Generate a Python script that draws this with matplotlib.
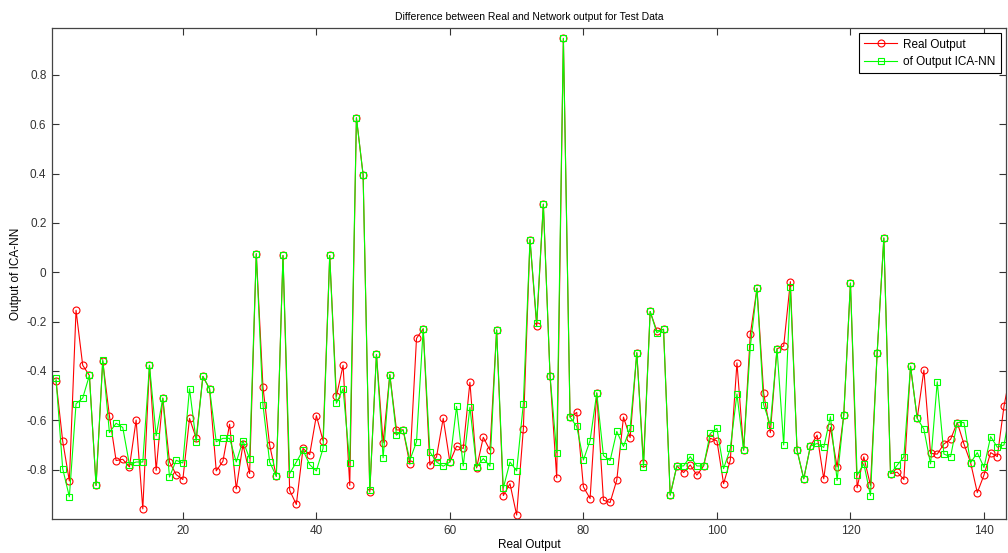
import matplotlib
matplotlib.use("Agg")
import matplotlib.pyplot as plt
import numpy as np

real_output = [
    -0.44, -0.684, -0.846, -0.154, -0.377, -0.418, -0.864, -0.36, -0.582, -0.763,
    -0.758, -0.789, -0.599, -0.959, -0.377, -0.803, -0.51, -0.769, -0.82, -0.84,
    -0.592, -0.673, -0.422, -0.472, -0.805, -0.766, -0.616, -0.878, -0.698, -0.816,
    0.075, -0.465, -0.70, -0.827, 0.068, -0.884, -0.941, -0.714, -0.739, -0.581,
    -0.683, 0.068, -0.503, -0.377, -0.864, 0.626, 0.395, -0.891, -0.333, -0.691,
    -0.415, -0.639, -0.639, -0.778, -0.268, -0.229, -0.782, -0.748, -0.592, -0.769,
    -0.705, -0.714, -0.446, -0.793, -0.669, -0.721, -0.234, -0.905, -0.857, -0.984,
    -0.637, 0.132, -0.218, 0.276, -0.419, -0.833, 0.948, -0.587, -0.568, -0.87,
    -0.917, -0.489, -0.924, -0.933, -0.842, -0.587, -0.67, -0.326, -0.772, -0.159,
    -0.238, -0.231, -0.903, -0.785, -0.812, -0.781, -0.822, -0.785, -0.673, -0.683,
    -0.857, -0.762, -0.367, -0.721, -0.252, -0.065, -0.49, -0.65, -0.31, -0.299,
    -0.038, -0.721, -0.837, -0.705, -0.66, -0.837, -0.629, -0.789, -0.578, -0.044,
    -0.873, -0.748, -0.864, -0.327, 0.139, -0.816, -0.81, -0.84, -0.381, -0.592,
    -0.397, -0.734, -0.737, -0.696, -0.677, -0.609, -0.696, -0.772, -0.893, -0.822,
    -0.731, -0.747, -0.543, -0.40,
]

network_output = [
    -0.43, -0.796, -0.91, -0.533, -0.51, -0.418, -0.864, -0.354, -0.65, -0.612,
    -0.629, -0.78, -0.769, -0.769, -0.377, -0.663, -0.51, -0.83, -0.762, -0.773,
    -0.472, -0.687, -0.422, -0.472, -0.687, -0.673, -0.673, -0.769, -0.683, -0.755,
    0.075, -0.537, -0.769, -0.827, 0.068, -0.816, -0.769, -0.721, -0.78, -0.805,
    -0.714, 0.068, -0.531, -0.472, -0.773, 0.626, 0.395, -0.884, -0.333, -0.752,
    -0.415, -0.66, -0.639, -0.762, -0.687, -0.229, -0.728, -0.769, -0.786, -0.769,
    -0.544, -0.785, -0.547, -0.789, -0.755, -0.786, -0.234, -0.875, -0.769, -0.805,
    -0.533, 0.132, -0.204, 0.276, -0.419, -0.732, 0.948, -0.587, -0.625, -0.761,
    -0.682, -0.489, -0.743, -0.763, -0.645, -0.706, -0.632, -0.326, -0.791, -0.159,
    -0.245, -0.231, -0.903, -0.785, -0.785, -0.747, -0.785, -0.785, -0.653, -0.633,
    -0.796, -0.714, -0.493, -0.721, -0.302, -0.065, -0.537, -0.619, -0.31, -0.70,
    -0.061, -0.721, -0.837, -0.705, -0.694, -0.71, -0.585, -0.844, -0.578, -0.044,
    -0.823, -0.776, -0.905, -0.327, 0.139, -0.816, -0.782, -0.748, -0.381, -0.592,
    -0.636, -0.777, -0.444, -0.737, -0.747, -0.609, -0.609, -0.772, -0.731, -0.791,
    -0.666, -0.709, -0.70, -0.55,
]

x_ticks = [20, 40, 60, 80, 100, 120, 140]
y_ticks = [-0.8, -0.6, -0.4, -0.2, 0, 0.2, 0.4, 0.6, 0.8]
y_tick_labels = ["-0.8", "-0.6", "-0.4", "-0.2", "0", "0.2", "0.4", "0.6", "0.8"]

plt.rcParams['font.family'] = ['Liberation Sans', 'DejaVu Sans']

fig = plt.figure(figsize=(10.08, 5.53), dpi=100)
ax = fig.add_axes([52/1008, 1 - 519/553, (1006 - 52)/1008, (519 - 28)/553])

x = np.arange(1, len(real_output) + 1)
ax.plot(x, real_output, color='#ff0000', linewidth=0.8, marker='o', markersize=5,
        markerfacecolor='none', markeredgecolor='#ff0000', markeredgewidth=0.8,
        label='Real Output')
ax.plot(x, network_output, color='#00ff00', linewidth=0.8, marker='s', markersize=5,
        markerfacecolor='none', markeredgecolor='#00ff00', markeredgewidth=0.8,
        label='of Output ICA-NN')

ax.set_xlim(0.4, 143.3)
ax.set_ylim(-1.0, 0.99)
ax.set_xticks(x_ticks)
ax.set_yticks(y_ticks)
ax.set_yticklabels(y_tick_labels)
ax.tick_params(direction='in', length=5, width=0.8, top=True, right=True,
               labelsize=8.5, colors='#333333', pad=4)
for s in ax.spines.values():
    s.set_color('#444444')
    s.set_linewidth(0.9)

ax.set_title('Difference between Real and Network output for Test Data',
             fontsize=7.5, pad=6)
ax.set_xlabel('Real Output', fontsize=8.5, labelpad=2)
ax.set_ylabel('Output of ICA-NN', fontsize=8.5, labelpad=3)

leg = ax.legend(loc='upper right', fontsize=8.5, frameon=True, fancybox=False,
                edgecolor='black', framealpha=1, borderaxespad=0.45,
                handlelength=2.8, handletextpad=0.5, borderpad=0.45,
                labelspacing=0.45)
leg.get_frame().set_linewidth(0.8)

fig.savefig('out.png', dpi=100)
